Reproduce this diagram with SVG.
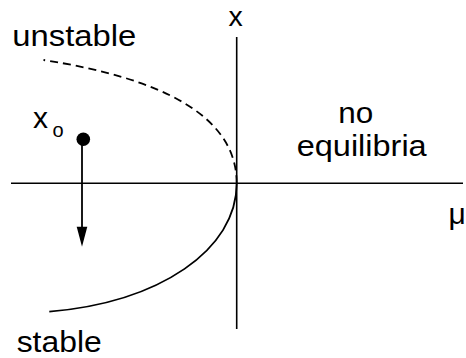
<svg xmlns="http://www.w3.org/2000/svg" width="466" height="358" viewBox="0 0 466 358">
<style>
text { font-family: "Liberation Sans", Arial, sans-serif; font-size: 30px; fill: #000; }
.ax { stroke: #000; stroke-width: 1.6; fill: none; }
.curve { stroke: #000; stroke-width: 1.8; fill: none; }
.dash { stroke-dasharray: 8 5; }
</style>
<rect width="466" height="358" fill="#fff"/>
<g id="connectors">
  <line id="mu-axis" class="ax" x1="11" y1="183.3" x2="463" y2="183.3"/>
  <line id="x-axis" class="ax" x1="236.7" y1="37" x2="236.7" y2="329"/>
  <path id="unstable-branch" class="curve dash" d="M236.7,183.3 C236.7,115 160,78 43.5,60"/>
  <path id="stable-branch" class="curve" d="M236.7,183.3 C236.7,250 160,302 49.3,311.7"/>
  <line id="traj" class="curve" x1="82" y1="139" x2="82" y2="228"/>
  <polygon points="76.7,226.7 87.3,226.7 82,246.7" fill="#000"/>
</g>
<g id="x0-point">
  <circle cx="83.3" cy="139.3" r="6.8" fill="#000"/>
  <text x="33" y="128.3">x</text>
  <text x="52.5" y="137.3" style="font-size:20px">o</text>
</g>
<g id="labels">
  <text x="228.5" y="26" style="font-size:28.5px">x</text>
  <text x="12.3" y="46" textLength="124" lengthAdjust="spacingAndGlyphs">unstable</text>
  <text x="16.7" y="351.7" textLength="85" lengthAdjust="spacingAndGlyphs">stable</text>
  <text x="338.3" y="123.3" textLength="35" lengthAdjust="spacingAndGlyphs">no</text>
  <text x="296.7" y="156" textLength="130" lengthAdjust="spacingAndGlyphs">equilibria</text>
  <text x="448.5" y="224">μ</text>
</g>
</svg>
